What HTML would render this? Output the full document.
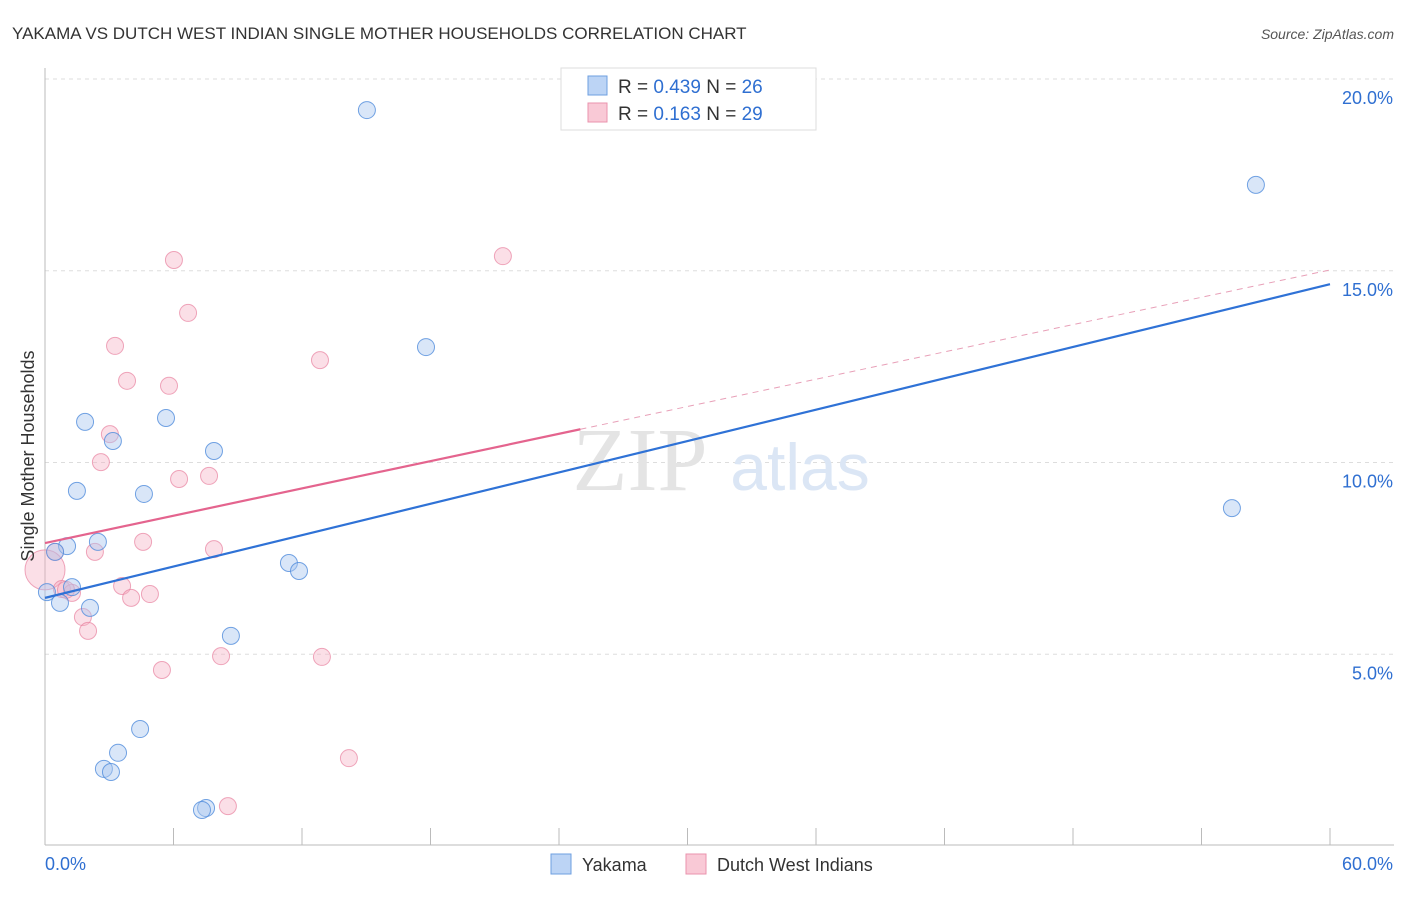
<!DOCTYPE html>
<html><head><meta charset="utf-8"><style>
body{margin:0;background:#fff;font-family:"Liberation Sans",sans-serif}
</style></head><body>
<svg width="1406" height="892" xmlns="http://www.w3.org/2000/svg" style="font-family:'Liberation Sans',sans-serif">
<text x="12" y="39" font-size="17" fill="#333">YAKAMA VS DUTCH WEST INDIAN SINGLE MOTHER HOUSEHOLDS CORRELATION CHART</text>
<text x="1394" y="39" font-size="14" fill="#555" font-style="italic" text-anchor="end">Source: ZipAtlas.com</text>
<g id="grid"></g>
<text x="640" y="490" font-size="90" fill="#e4e4e4" font-family="Liberation Serif" text-anchor="middle">ZIP</text>
<text x="800" y="490" font-size="66" fill="#dbe6f5" text-anchor="middle">atlas</text>
<g id="marks"></g>
<text x="34" y="456" font-size="18" fill="#333" text-anchor="middle" transform="rotate(-90 34 456)">Single Mother Households</text>
<g>
<rect x="561" y="68" width="255" height="62" fill="#fff" stroke="#ddd"/>
<rect x="588" y="76" width="19" height="19" fill="#bcd4f5" stroke="#6e9fe0"/>
<rect x="588" y="103" width="19" height="19" fill="#f9c9d6" stroke="#ea93ad"/>
<text x="618" y="93" font-size="19" fill="#333">R = <tspan fill="#2f6fd1">0.439</tspan>   N = <tspan fill="#2f6fd1">26</tspan></text>
<text x="618" y="120" font-size="19" fill="#333">R =  <tspan fill="#2f6fd1">0.163</tspan>   N = <tspan fill="#2f6fd1">29</tspan></text>
</g>
<g>
<rect x="551" y="854" width="20" height="20" fill="#bcd4f5" stroke="#6e9fe0"/>
<text x="582" y="871" font-size="18" fill="#333">Yakama</text>
<rect x="686" y="854" width="20" height="20" fill="#f9c9d6" stroke="#ea93ad"/>
<text x="717" y="871" font-size="18" fill="#333">Dutch West Indians</text>
</g>
</svg>
<script>
const xTicks=[0,6,12,18,24,30,36,42,48,54,60];
const yTicks=[5,10,15,20];
const yTickLabels=["5.0%","10.0%","15.0%","20.0%"];
const yakamaX=[15.03,56.54,17.79,1.87,5.65,3.17,7.89,1.49,4.62,55.42,1.03,2.47,0.47,11.39,11.86,1.26,0.09,0.70,2.10,8.68,4.44,3.41,2.75,3.08,7.52,7.33];
const yakamaY=[19.19,17.24,13.01,11.06,11.16,10.56,10.30,9.26,9.18,8.81,7.82,7.93,7.67,7.38,7.17,6.75,6.62,6.34,6.21,5.48,3.05,2.43,2.01,1.93,0.99,0.94];
const dwiX=[21.38,6.02,6.68,3.27,12.84,3.83,5.79,3.03,2.61,6.26,7.66,4.58,7.89,0.47,2.33,0.0,0.79,1.26,3.60,4.90,4.02,1.77,2.01,5.46,8.22,12.93,14.19,8.54,0.98];
const dwiY=[15.38,15.28,13.90,13.04,12.67,12.13,12.00,10.74,10.01,9.57,9.65,7.93,7.74,7.67,7.67,7.20,6.70,6.60,6.78,6.57,6.47,5.97,5.61,4.59,4.95,4.93,2.29,1.04,6.68];
const yakamaTrend=[6.47,14.65];
const dwiTrend=[7.90,15.02];
const sx=v=>45+v/60*1285, sy=v=>846-v*38.35;
const NS="http://www.w3.org/2000/svg";
function mk(t,a,p){const e=document.createElementNS(NS,t);for(const k in a)e.setAttribute(k,a[k]);p.appendChild(e);return e;}
const g=document.getElementById('grid'), m=document.getElementById('marks');
yTicks.forEach((v,i)=>{
 const l=mk('line',{x1:45,x2:1394,y1:sy(v),y2:sy(v),stroke:'#ddd','stroke-dasharray':'4,4'},g);
 
 
 const t=mk('text',{x:1393,y:sy(v)+25,'font-size':18,fill:'#2f6fd1','text-anchor':'end'},g);
 t.textContent=yTickLabels[i];
 
 
});
mk('line',{x1:45,x2:45,y1:68,y2:845,stroke:'#bbb'},g);
mk('line',{x1:45,x2:1394,y1:845,y2:845,stroke:'#bbb'},g);
xTicks.forEach(v=>{
 const l=mk('line',{x1:sx(v),x2:sx(v),y1:828,y2:845,stroke:'#bbb'},g);
 
 
});
const x0=mk('text',{x:45,y:870,'font-size':18,fill:'#2f6fd1'},g);x0.textContent='0.0%';

const x1=mk('text',{x:1393,y:870,'font-size':18,fill:'#2f6fd1','text-anchor':'end'},g);x1.textContent='60.0%';

dwiX.forEach((x,i)=>{
 const c=mk('circle',{cx:sx(x),cy:sy(dwiY[i]),r:x===0?20:8.5,fill:'rgba(246,174,196,0.4)',stroke:'rgba(232,130,160,0.7)','stroke-width':1},m);
 
 
});
yakamaX.forEach((x,i)=>{
 const c=mk('circle',{cx:sx(x),cy:sy(yakamaY[i]),r:8.5,fill:'rgba(170,200,240,0.45)',stroke:'rgba(80,140,220,0.8)','stroke-width':1},m);
 
 
});
const bl=mk('line',{x1:sx(0),y1:sy(yakamaTrend[0]),x2:sx(60),y2:sy(yakamaTrend[1]),stroke:'#2f72d6','stroke-width':2.2},m);


const pe=25, pv=dwiTrend[0]+(dwiTrend[1]-dwiTrend[0])*pe/60;
const pl=mk('line',{x1:sx(0),y1:sy(dwiTrend[0]),x2:sx(pe),y2:sy(pv),stroke:'#e4648e','stroke-width':2.2},m);


const pd=mk('line',{x1:sx(pe),y1:sy(pv),x2:sx(60),y2:sy(dwiTrend[1]),stroke:'#e8a0b8','stroke-width':1,'stroke-dasharray':'6,5'},m);


</script>
</body></html>
